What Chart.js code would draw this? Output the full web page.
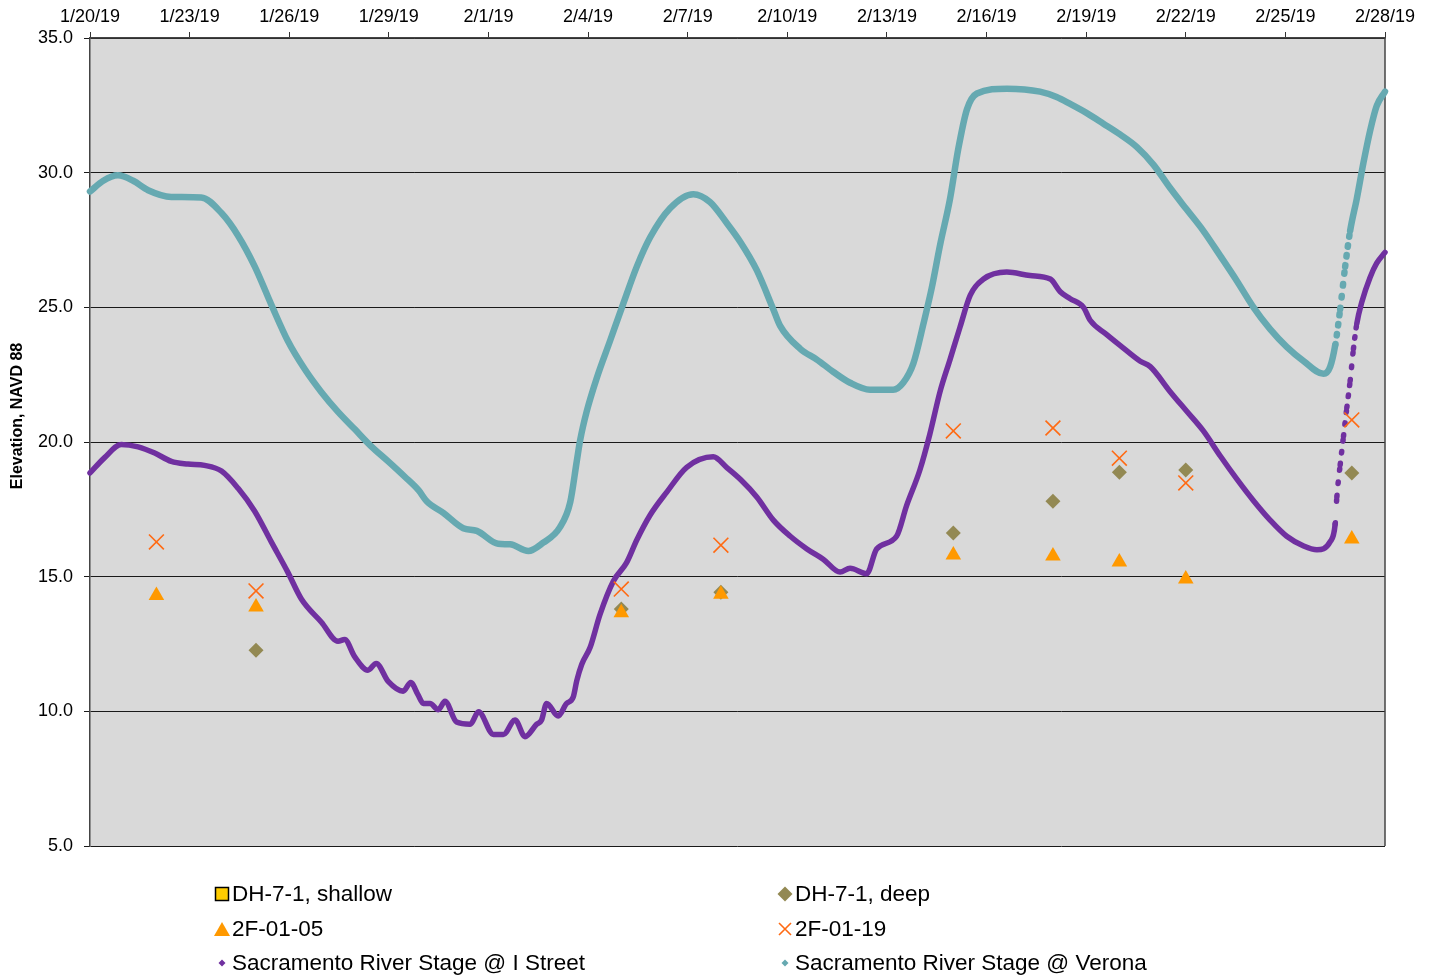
<!DOCTYPE html>
<html>
<head>
<meta charset="utf-8">
<title>Sacramento River Stage and well elevations</title>
<script src="https://cdn.jsdelivr.net/npm/chart.js@4.4.1/dist/chart.umd.min.js"></script>
<style>
html, body { margin: 0; padding: 0; background: #fff; }
#wrap { position: relative; width: 1433px; height: 978px; }
#legend .item {
    position: absolute;
    display: flex;
    align-items: center;
    height: 22px;
    line-height: 22px;
    font: 22.5px "Liberation Sans", Arial, sans-serif;
    color: #000;
    white-space: nowrap;
}
#legend svg { margin-right: 2px; }
</style>
</head>
<body>
<div id="wrap">
    <canvas id="myChart" width="1433" height="978"></canvas>
    <div id="legend"></div>
</div>
<script>
// 기준일 1/20/19 (x 값은 이 날부터의 일수)
var startDate = Date.UTC(2019, 0, 20);

// 관측정 측정값
var shallowDates = [];
var shallowElev = [];
var deepDates = ['2019-01-25', '2019-02-05', '2019-02-08', '2019-02-15', '2019-02-18', '2019-02-20', '2019-02-22', '2019-02-27'];
var deepElev = [12.27, 13.8, 14.42, 16.62, 17.8, 18.88, 18.96, 18.85];
var f05Dates = ['2019-01-22', '2019-01-25', '2019-02-05', '2019-02-08', '2019-02-15', '2019-02-18', '2019-02-20', '2019-02-22', '2019-02-27'];
var f05Elev = [14.3, 13.87, 13.66, 14.35, 15.8, 15.77, 15.54, 14.91, 16.4];
var f19Dates = ['2019-01-22', '2019-01-25', '2019-02-05', '2019-02-08', '2019-02-15', '2019-02-18', '2019-02-20', '2019-02-22', '2019-02-27'];
var f19Elev = [16.29, 14.47, 14.54, 16.17, 20.41, 20.52, 19.4, 18.48, 20.82];

// 하천 수위 (I Street)
var iStreetDay = [0, 0.44, 0.94, 1.45, 1.95, 2.45, 2.95, 3.45, 3.96, 4.46, 4.96, 5.46, 5.96, 6.37, 6.97, 7.47, 7.67, 7.97, 8.37, 8.62,
    8.98, 9.43, 9.66, 9.88, 10.04, 10.24, 10.49, 10.69, 11.04, 11.45, 11.7, 12.15, 12.45, 12.8, 13.1, 13.45, 13.6, 13.75, 14.1, 14.35,
    14.55, 14.66, 14.81, 15.06, 15.36, 15.76, 16.16, 16.47, 16.87, 17.37, 17.97, 18.77, 19.17, 19.6, 20.08, 20.58, 21.09, 21.59, 22.09, 22.59,
    22.89, 23.39, 23.69, 24.29, 24.59, 24.99, 25.29, 25.6, 25.9, 26.2, 26.51, 26.91, 27.61, 28.31, 28.92, 29.22, 29.52, 29.92, 30.12, 30.62,
    31.02, 31.63, 31.93, 32.53, 33.03, 33.53, 34.04, 34.54, 35.04, 35.54, 36.04, 36.55, 36.95, 37.35, 37.5, 37.55, 37.65, 37.75, 37.85, 37.95,
    38.05, 38.15, 38.3, 38.55, 38.75, 39.0];
var iStreetStage = [18.85, 19.42, 19.91, 19.82, 19.59, 19.28, 19.18, 19.13, 18.92, 18.28, 17.43, 16.29, 15.16, 14.16, 13.31, 12.6, 12.67, 12.03, 11.53, 11.78,
    11.11, 10.75, 11.07, 10.61, 10.29, 10.29, 10.06, 10.37, 9.6, 9.52, 9.98, 9.14, 9.14, 9.68, 9.06, 9.52, 9.68, 10.29, 9.83, 10.29,
    10.52, 11.14, 11.75, 12.37, 13.6, 14.83, 15.52, 16.37, 17.29, 18.14, 19.06, 19.45, 19.06, 18.6, 17.96, 17.1, 16.5, 16.03, 15.64, 15.17,
    15.31, 15.11, 16.03, 16.5, 17.63, 18.95, 20.28, 21.87, 23.06, 24.26, 25.45, 26.05, 26.31, 26.18, 26.05, 25.58, 25.32, 25.0, 24.52, 23.99,
    23.59, 23.0, 22.8, 21.87, 21.14, 20.41, 19.48, 18.62, 17.82, 17.1, 16.5, 16.14, 16.0, 16.3, 16.96, 17.96, 19.15, 20.21, 21.27, 22.27,
    23.46, 24.39, 25.19, 26.11, 26.64, 27.04];

// 하천 수위 (Verona)
var veronaDay = [0, 0.4, 0.84, 1.3, 1.75, 2.45, 3.35, 3.96, 4.46, 4.96, 5.46, 5.96, 6.47, 6.97, 7.47, 7.97, 8.47, 8.98, 9.48, 9.9,
    10.14, 10.64, 11.24, 11.65, 12.29, 12.65, 13.2, 13.65, 14.15, 14.46, 14.66, 14.76, 14.96, 15.26, 15.66, 16.06, 16.47, 16.87, 17.47, 18.17,
    18.67, 19.17, 19.6, 20.08, 20.58, 20.78, 21.39, 21.89, 22.39, 22.89, 23.49, 24.19, 24.49, 24.8, 25.1, 25.35, 25.6, 25.9, 26.15, 26.41,
    26.71, 27.61, 28.61, 29.11, 29.52, 30.02, 30.52, 31.02, 31.53, 32.03, 32.53, 33.03, 33.53, 34.04, 34.54, 35.04, 35.54, 36.04, 36.55, 37.15,
    37.35, 37.5, 37.65, 37.8, 37.95, 38.15, 38.35, 38.55, 38.75, 39.0];
var veronaStage = [29.3, 29.7, 29.9, 29.7, 29.35, 29.1, 29.08, 28.5, 27.66, 26.52, 25.1, 23.75, 22.7, 21.85, 21.12, 20.48, 19.84, 19.28, 18.71, 18.2,
    17.8, 17.37, 16.8, 16.7, 16.22, 16.2, 15.95, 16.26, 16.83, 17.75, 19.29, 20.06, 21.14, 22.37, 23.75, 25.14, 26.52, 27.6, 28.68, 29.2,
    28.91, 28.14, 27.4, 26.38, 24.92, 24.32, 23.46, 23.06, 22.6, 22.2, 21.94, 21.94, 22.2, 22.93, 24.39, 25.72, 27.31, 29.03, 30.89, 32.35,
    32.94, 33.12, 33.01, 32.81, 32.55, 32.21, 31.82, 31.42, 30.95, 30.29, 29.43, 28.63, 27.84, 26.91, 25.98, 25.0, 24.19, 23.53, 23.0, 22.53,
    22.8, 23.59, 24.93, 26.51, 27.84, 29.03, 30.36, 31.55, 32.48, 33.01];

function dayOf(str) {
    var p = str.split('-');
    return (Date.UTC(+p[0], +p[1] - 1, +p[2]) - startDate) / 86400000;
}
function wellPoints(dates, vals) {
    var out = [];
    for (var i = 0; i < dates.length; i++) {
        out.push({ x: dayOf(dates[i]), y: vals[i] });
    }
    return out;
}
function stagePoints(days, vals) {
    var out = [];
    for (var i = 0; i < days.length; i++) {
        out.push({ x: days[i], y: vals[i] });
    }
    return out;
}
// 가파른 구간: 시간 단위 점 간격이 선 굵기보다 크면 점선으로
function hourlyDash(days, width) {
    return function(ctx) {
        var dx = ctx.p1.x - ctx.p0.x;
        var dy = ctx.p1.y - ctx.p0.y;
        var hours = (days[ctx.p1DataIndex] - days[ctx.p0DataIndex]) * 24;
        if (!hours) return undefined;
        var gap = Math.sqrt(dx * dx + dy * dy) / hours;
        if (gap < width * 1.35) return undefined;
        return [1.5, gap - 1.5];
    };
}

var datasets = [{
    label: 'DH-7-1, shallow',
    data: wellPoints(shallowDates, shallowElev),
    showLine: false,
    pointStyle: 'rect',
    pointRadius: 9,
    backgroundColor: '#ffcc00',
    borderColor: '#000000',
    borderWidth: 1.5,
    order: 3
}, {
    label: 'DH-7-1, deep',
    data: wellPoints(deepDates, deepElev),
    showLine: false,
    pointStyle: 'rectRot',
    pointRadius: 7.5,
    backgroundColor: '#938953',
    borderColor: '#938953',
    borderWidth: 0,
    order: 2
}, {
    label: '2F-01-05',
    data: wellPoints(f05Dates, f05Elev),
    showLine: false,
    pointStyle: 'triangle',
    pointRadius: 9,
    backgroundColor: '#ff9900',
    borderColor: '#ff9900',
    borderWidth: 0,
    order: 0
}, {
    label: '2F-01-19',
    data: wellPoints(f19Dates, f19Elev),
    showLine: false,
    pointStyle: 'crossRot',
    pointRadius: 10.5,
    backgroundColor: '#ff6a13',
    borderColor: '#ff6a13',
    borderWidth: 1.6,
    order: 1
}, {
    label: 'Sacramento River Stage @ I Street',
    data: stagePoints(iStreetDay, iStreetStage),
    showLine: true,
    pointRadius: 0,
    pointStyle: 'rectRot',
    borderColor: '#7030a0',
    backgroundColor: '#7030a0',
    borderWidth: 5.5,
    borderCapStyle: 'round',
    borderJoinStyle: 'round',
    cubicInterpolationMode: 'monotone',
    clip: false,
    segment: { borderDash: hourlyDash(iStreetDay, 5.5) },
    order: 4
}, {
    label: 'Sacramento River Stage @ Verona',
    data: stagePoints(veronaDay, veronaStage),
    showLine: true,
    pointRadius: 0,
    pointStyle: 'rectRot',
    borderColor: '#66a9b1',
    backgroundColor: '#66a9b1',
    borderWidth: 6.5,
    borderCapStyle: 'round',
    borderJoinStyle: 'round',
    cubicInterpolationMode: 'monotone',
    clip: false,
    segment: { borderDash: hourlyDash(veronaDay, 6.5) },
    order: 5
}];

var plotBg = {
    id: 'plotBg',
    beforeDraw: function(chart) {
        var a = chart.chartArea;
        var c = chart.ctx;
        c.save();
        c.fillStyle = '#d9d9d9';
        c.fillRect(a.left, a.top, a.right - a.left, a.bottom - a.top);
        c.restore();
    },
    beforeDatasetsDraw: function(chart) {
        var a = chart.chartArea;
        var c = chart.ctx;
        c.save();
        c.strokeStyle = '#444';
        c.lineWidth = 1.5;
        c.beginPath();
        c.moveTo(a.right, a.top);
        c.lineTo(a.right, a.bottom);
        c.stroke();
        // y축 제목
        c.translate(18, (a.top + a.bottom) / 2 - 26);
        c.rotate(-Math.PI / 2);
        c.fillStyle = '#000';
        c.font = 'bold 16px "Liberation Sans", Arial, sans-serif';
        c.textAlign = 'center';
        c.textBaseline = 'middle';
        c.fillText('Elevation, NAVD 88', 0, 0);
        c.restore();
    }
};

var tickFont = { family: '"Liberation Sans", Arial, sans-serif', size: 18 };

var ctx = document.getElementById('myChart').getContext('2d');
var myChart = new Chart(ctx, {
    type: 'line',
    data: { datasets: datasets },
    options: {
        responsive: false,
        animation: false,
        layout: { padding: { left: 0, top: 0, right: 48, bottom: 132 } },
        plugins: {
            legend: { display: false },
            tooltip: { enabled: false }
        },
        scales: {
            x: {
                type: 'linear',
                position: 'top',
                min: 0,
                max: 39,
                afterFit: function(s) { s.height = 38; },
                ticks: {
                    stepSize: 3,
                    color: '#000',
                    font: tickFont,
                    padding: 4,
                    maxRotation: 0,
                    callback: function(v) {
                        var d = new Date(startDate + v * 86400000);
                        return (d.getUTCMonth() + 1) + '/' + d.getUTCDate() + '/19';
                    }
                },
                grid: { drawOnChartArea: false, drawTicks: true, tickLength: 6, color: '#333', lineWidth: 1 },
                border: { display: true, color: '#444', width: 1.5 }
            },
            y: {
                min: 5,
                max: 35,
                afterFit: function(s) { s.width = 90; },
                ticks: {
                    stepSize: 5,
                    color: '#000',
                    font: tickFont,
                    padding: 11,
                    callback: function(v) { return v.toFixed(1); }
                },
                grid: { color: '#1a1a1a', lineWidth: 1, tickLength: 6 },
                border: { display: true, color: '#444', width: 1.5 }
            }
        }
    },
    plugins: [plotBg]
});

// 범례 (2열)
function markerSvg(ds) {
    var fill = ds.backgroundColor;
    var s = '<svg width="16" height="16" viewBox="0 0 16 16">';
    if (ds.pointStyle === 'rect') {
        s += '<rect x="1.5" y="1.5" width="13" height="13" fill="' + fill + '" stroke="#000" stroke-width="1.5"/>';
    } else if (ds.pointStyle === 'triangle') {
        s += '<polygon points="8,1 16,15 0,15" fill="' + fill + '"/>';
    } else if (ds.pointStyle === 'crossRot') {
        s += '<path d="M2,2 L14,14 M14,2 L2,14" stroke="' + ds.borderColor + '" stroke-width="1.6"/>';
    } else if (ds.showLine) {
        s += '<polygon points="8,4.5 11.5,8 8,11.5 4.5,8" fill="' + fill + '"/>';
    } else {
        s += '<polygon points="8,0.5 15.5,8 8,15.5 0.5,8" fill="' + fill + '"/>';
    }
    return s + '</svg>';
}
var legendCols = [214, 777];
var legendRows = [883, 918, 952];
var legendBox = document.getElementById('legend');
for (var i = 0; i < datasets.length; i++) {
    var item = document.createElement('div');
    item.className = 'item';
    item.style.left = legendCols[i % 2] + 'px';
    item.style.top = legendRows[Math.floor(i / 2)] + 'px';
    item.innerHTML = markerSvg(datasets[i]) + '<span>' + datasets[i].label + '</span>';
    legendBox.appendChild(item);
}
</script>
</body>
</html>
